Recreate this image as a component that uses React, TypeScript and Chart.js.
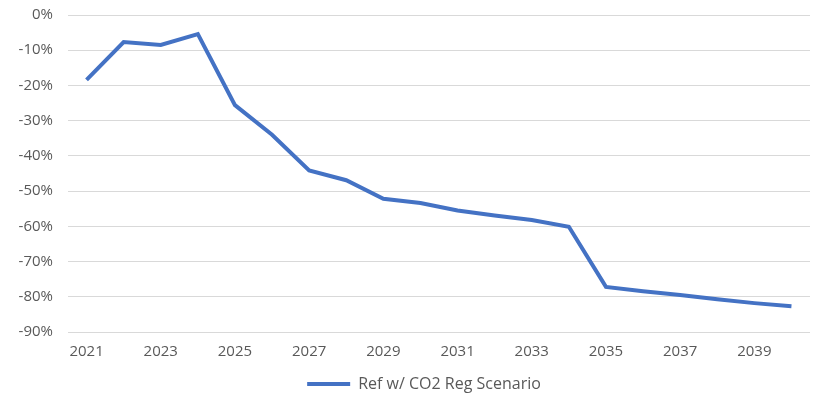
import React, { useEffect, useRef } from "react";
import { Chart, registerables } from "chart.js";

Chart.register(...registerables);

const years: string[] = [
  "2021", "2022", "2023", "2024", "2025", "2026", "2027", "2028", "2029", "2030",
  "2031", "2032", "2033", "2034", "2035", "2036", "2037", "2038", "2039", "2040",
];

const seriesName = "Ref w/ CO2 Reg Scenario";

const seriesValues: number[] = [
  -18.4, -7.7, -8.5, -5.4, -25.6, -34.0, -44.1, -46.9, -52.2, -53.4,
  -55.5, -56.9, -58.2, -60.1, -77.2, -78.4, -79.5, -80.7, -81.8, -82.7,
];

const yMin = -90;
const yMax = 0;
const yStep = 10;

const FONT = "'Open Sans', 'DejaVu Sans', sans-serif";
const TEXT = "#595959";
const BLUE = "#4472C4";

const legendShift = {
  id: "legendShift",
  afterLayout(chart: any) {
    if (chart.legend) {
      chart.legend.left += 38;
      chart.legend.top += 4;
      chart.legend.bottom += 4;
    }
  },
};

export default function App() {
  const ref = useRef<HTMLCanvasElement | null>(null);

  useEffect(() => {
    if (!ref.current) return;
    const chart = new Chart(ref.current, {
      type: "line",
      data: {
        labels: years,
        datasets: [
          {
            label: seriesName,
            data: seriesValues,
            borderColor: BLUE,
            backgroundColor: BLUE,
            borderWidth: 4,
            pointRadius: 0,
            tension: 0,
          },
        ],
      },
      plugins: [legendShift],
      options: {
        responsive: false,
        animation: false,
        layout: { padding: { top: 15, left: 0, right: 3, bottom: 0 } },
        plugins: {
          tooltip: { enabled: false },
          legend: {
            position: "bottom",
            labels: {
              usePointStyle: true,
              pointStyle: "line",
              pointStyleWidth: 43,
              color: TEXT,
              font: { family: FONT, size: 16 },
              padding: 2,
            },
          },
        },
        scales: {
          x: {
            offset: true,
            grid: { display: false, drawTicks: false },
            border: { display: false },
            ticks: {
              autoSkip: false,
              maxRotation: 0,
              padding: 11,
              color: TEXT,
              font: { family: FONT, size: 15 },
              callback: (_v: any, i: number) => (i % 2 === 0 ? years[i] : ""),
            },
            afterFit: (s: any) => {
              s.height = 38;
            },
          },
          y: {
            min: yMin,
            max: yMax,
            grid: { color: "#d9d9d9", drawTicks: false, lineWidth: 1 },
            border: { display: false },
            ticks: {
              stepSize: yStep,
              padding: 15,
              color: TEXT,
              font: { family: FONT, size: 15 },
              callback: (v: any) => `${v}%`,
            },
            afterFit: (s: any) => {
              s.width = 68;
              s.paddingTop = 0;
              s.paddingBottom = 0;
            },
          },
        },
      },
    });
    return () => chart.destroy();
  }, []);

  return (
    <div style={{ position: "fixed", left: 0, top: 0, width: 813, height: 398, background: "#fff" }}>
      <canvas ref={ref} width={813} height={398} />
    </div>
  );
}
